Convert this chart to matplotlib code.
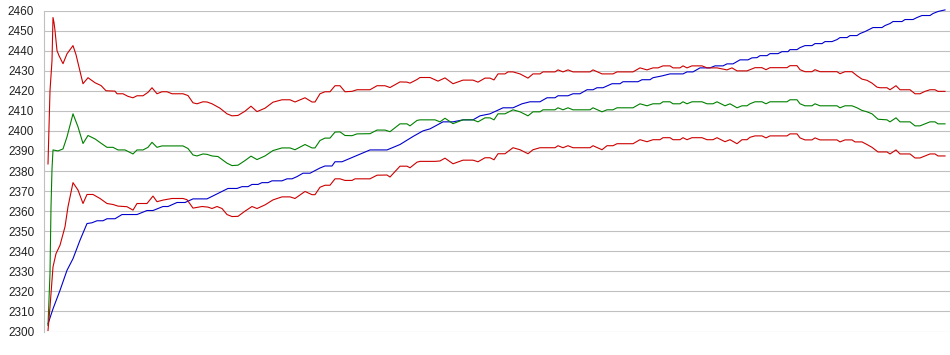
import matplotlib
matplotlib.use("Agg")
import matplotlib.pyplot as plt

# ---------------- data (time index, value) ----------------
upper_t = [4, 6, 8, 9, 10, 11, 13, 15, 19, 23, 29, 32, 35, 39, 44, 51, 57, 62, 71, 73, 79, 84, 89, 93, 99,
           104, 108, 113, 118, 123, 128, 139, 144, 149, 153, 159, 163, 168, 176, 183, 188, 194, 201, 207,
           213, 221, 229, 238, 246, 251, 261, 268, 271, 276, 281, 286, 291, 296, 301, 308, 313, 326, 333,
           341, 346, 356, 363, 366, 373, 376, 386, 394, 401, 409, 419, 429, 434, 441, 446, 450, 454, 461,
           464, 469, 476, 484, 489, 496, 499, 511, 514, 519, 524, 529, 546, 549, 558, 569, 573, 589, 596,
           603, 609, 614, 619, 626, 629, 636, 639, 643, 648, 658, 663, 673, 683, 688, 693, 703, 706, 711,
           718, 722, 726, 743, 746, 753, 756, 761, 768, 771, 776, 793, 796, 801, 808, 813, 818, 823, 828,
           833, 836, 843, 846, 852, 856, 866, 871, 876, 881, 886, 891, 894, 901]
upper_v = [2383.5, 2420, 2435, 2456.5, 2454, 2450, 2440, 2437.5, 2433.5, 2438.4, 2442.5, 2438, 2431.7, 2423.5,
           2426.5, 2424, 2422.6, 2420, 2419.8, 2418.5, 2418.5, 2417.2, 2416.5, 2417.5, 2417.5, 2419.2, 2421.5,
           2418.5, 2419.5, 2419.5, 2418.5, 2418.5, 2417.6, 2414, 2413.5, 2414.5, 2414.4, 2413.5, 2411.3,
           2408.5, 2407.5, 2407.7, 2409.8, 2412.3, 2409.6, 2411.3, 2414.3, 2415.5, 2415.5, 2414.4, 2416.5,
           2414.4, 2414.4, 2418.5, 2419.5, 2419.5, 2422.5, 2422.5, 2419.5, 2419.7, 2420.5, 2420.5, 2422.5,
           2422.5, 2421.6, 2424.4, 2424.3, 2423.8, 2425.6, 2426.6, 2426.6, 2424.8, 2426.4, 2423.5, 2425.3,
           2425.3, 2424.3, 2426.3, 2426.3, 2425.4, 2428.4, 2428.4, 2429.4, 2429.4, 2428.4, 2426.3, 2428.4,
           2428.4, 2429.4, 2429.4, 2430.4, 2429.4, 2430.4, 2429.4, 2429.4, 2430.4, 2428.4, 2428.4, 2429.4,
           2429.4, 2431.4, 2430.4, 2431.4, 2431.4, 2432.4, 2432.4, 2431.4, 2431.4, 2432.4, 2431.4, 2432.4,
           2432.4, 2431.4, 2431.4, 2430.4, 2431.4, 2429.9, 2429.9, 2430.5, 2431.5, 2431.5, 2430.5, 2431.5,
           2431.5, 2432.5, 2432.5, 2430.5, 2429.5, 2429.5, 2430.5, 2429.5, 2429.5, 2428.5, 2429.5, 2429.5,
           2427.5, 2425.8, 2425.2, 2423.8, 2421.8, 2421.5, 2421.5, 2420.5, 2422.5, 2420.5, 2420.5, 2418.5,
           2418.5, 2419.7, 2420.5, 2420.5, 2419.7, 2419.7]

mid_t = [4, 6, 7, 8, 9, 14, 19, 23, 29, 34, 39, 44, 51, 58, 63, 69, 74, 81, 89, 93, 99, 104, 108, 113, 118,
         139, 144, 149, 153, 159, 163, 168, 174, 183, 188, 194, 201, 207, 213, 221, 229, 238, 246, 251, 261,
         268, 271, 276, 281, 286, 291, 296, 301, 308, 313, 326, 333, 341, 346, 356, 363, 366, 373, 376, 391,
         396, 401, 409, 419, 429, 434, 441, 446, 450, 454, 461, 469, 476, 484, 489, 496, 499, 511, 514, 519,
         524, 529, 546, 549, 558, 563, 569, 573, 589, 596, 603, 609, 616, 619, 626, 629, 636, 639, 643, 648,
         658, 663, 669, 673, 681, 686, 693, 698, 703, 706, 711, 718, 722, 726, 743, 746, 753, 756, 761, 768,
         771, 776, 793, 796, 801, 808, 813, 818, 823, 828, 834, 843, 846, 852, 856, 866, 871, 876, 881, 886,
         891, 894, 901]
mid_v = [2303, 2329, 2362, 2381, 2390.5, 2390, 2391, 2397, 2408.5, 2402, 2393.7, 2397.7, 2396, 2393.5, 2391.8,
         2391.8, 2390.5, 2390.5, 2388.5, 2390.5, 2390.5, 2391.8, 2394.3, 2391.8, 2392.5, 2392.5, 2391.2, 2388,
         2387.5, 2388.5, 2388.3, 2387.5, 2387.2, 2383.9, 2382.7, 2382.9, 2385.2, 2387.4, 2385.7, 2387.5,
         2390.2, 2391.5, 2391.5, 2390.6, 2393.2, 2391.5, 2391.5, 2395.2, 2396.4, 2396.4, 2399.4, 2399.5,
         2397.7, 2397.6, 2398.5, 2398.6, 2400.4, 2400.4, 2399.6, 2403.5, 2403.5, 2402.5, 2405.2, 2405.5,
         2405.5, 2404.5, 2406.3, 2403.6, 2405.5, 2405.5, 2404.5, 2406.5, 2406.5, 2405.5, 2408.5, 2408.5,
         2410.5, 2409.5, 2407.5, 2409.5, 2409.5, 2410.5, 2410.5, 2411.5, 2410.5, 2411.5, 2410.5, 2410.5,
         2411.5, 2409.5, 2410.5, 2410.5, 2411.5, 2411.5, 2413.5, 2412.5, 2413.5, 2413.5, 2414.5, 2414.5,
         2413.5, 2413.5, 2414.5, 2413.5, 2414.5, 2414.5, 2413.5, 2413.5, 2414.5, 2412.5, 2413.5, 2411.5,
         2412.5, 2412.5, 2413.5, 2414.5, 2414.5, 2413.5, 2414.5, 2414.5, 2415.5, 2415.5, 2413.5, 2412.5,
         2412.5, 2413.5, 2412.5, 2412.5, 2411.5, 2412.5, 2412.5, 2411.5, 2410.2, 2409.5, 2408.5, 2405.8,
         2405.5, 2404.5, 2406.5, 2404.5, 2404.5, 2402.5, 2402.5, 2403.5, 2404.5, 2404.5, 2403.5, 2403.5]

lower_t = [4, 6, 8, 9, 12, 16, 21, 24, 29, 34, 39, 43, 49, 56, 63, 69, 74, 83, 89, 93, 103, 109, 113, 119,
           128, 139, 143, 149, 158, 164, 168, 173, 178, 183, 188, 194, 201, 208, 213, 221, 229, 238, 246, 251,
           261, 268, 271, 276, 281, 286, 291, 296, 301, 308, 311, 326, 333, 343, 346, 356, 363, 366, 373, 376,
           391, 396, 401, 409, 419, 429, 434, 441, 446, 450, 454, 461, 469, 476, 484, 489, 496, 511, 514, 519,
           524, 529, 546, 549, 558, 563, 569, 573, 589, 596, 603, 609, 616, 619, 626, 629, 636, 639, 643, 648,
           658, 663, 669, 673, 681, 686, 693, 698, 703, 706, 711, 718, 722, 726, 743, 746, 753, 756, 761, 768,
           771, 776, 793, 796, 801, 808, 811, 818, 823, 828, 834, 843, 846, 852, 856, 866, 871, 876, 881, 886,
           891, 894, 901]
lower_v = [2300.5, 2312.2, 2325.5, 2332.2, 2338.8, 2343, 2352.2, 2362.2, 2374.2, 2370.5, 2363.8, 2368.3,
           2368.3, 2366.3, 2363.8, 2363.3, 2362.5, 2362.2, 2360.5, 2363.8, 2363.8, 2367.5, 2364.7, 2365.5,
           2366.3, 2366.3, 2365.7, 2361.5, 2362.3, 2362, 2361.3, 2362.3, 2361.3, 2358.3, 2357.3, 2357.4, 2360,
           2362.3, 2361.3, 2363.1, 2365.6, 2367.1, 2367.1, 2366.3, 2369.8, 2368.2, 2368.2, 2371.9, 2372.9,
           2372.9, 2376.1, 2376.1, 2375.3, 2375.3, 2376.1, 2376.1, 2377.9, 2378, 2377, 2382.4, 2382.4, 2381.6,
           2384.4, 2384.8, 2384.8, 2385, 2386.4, 2383.6, 2385.4, 2385.4, 2384.6, 2386.6, 2386.6, 2385.6,
           2388.6, 2388.6, 2391.6, 2390.6, 2388.6, 2390.6, 2391.6, 2391.6, 2392.6, 2391.6, 2392.6, 2391.6,
           2391.6, 2392.6, 2390.6, 2392.6, 2392.6, 2393.6, 2393.6, 2395.6, 2394.6, 2395.6, 2395.6, 2396.6,
           2396.6, 2395.6, 2395.6, 2396.6, 2395.6, 2396.6, 2396.6, 2395.6, 2395.6, 2396.6, 2394.6, 2395.6,
           2393.6, 2395.6, 2395.6, 2396.8, 2397.5, 2397.5, 2396.5, 2397.5, 2397.5, 2398.5, 2398.5, 2396.5,
           2395.5, 2395.5, 2396.5, 2395.5, 2395.5, 2394.5, 2395.5, 2395.5, 2394.5, 2394.5, 2393.2, 2391.8,
           2389.5, 2389.5, 2388.5, 2390.5, 2388.5, 2388.5, 2386.5, 2386.5, 2387.5, 2388.5, 2388.5, 2387.5,
           2387.5]

blue_t = [4, 9, 16, 23, 29, 36, 43, 48, 53, 59, 63, 71, 78, 93, 103, 109, 119, 124, 133, 141, 149, 163, 184,
          193, 198, 204, 208, 214, 218, 224, 228, 238, 243, 248, 253, 259, 266, 276, 281, 288, 291, 298, 326,
          343, 356, 369, 379, 386, 399, 409, 419, 429, 436, 446, 459, 469, 478, 486, 496, 503, 511, 514, 524,
          529, 536, 543, 549, 553, 559, 568, 576, 579, 594, 598, 606, 609, 618, 626, 639, 643, 649, 656, 666,
          671, 679, 683, 689, 696, 704, 708, 713, 716, 723, 726, 734, 738, 744, 746, 753, 756, 761, 768, 771,
          778, 781, 788, 793, 796, 803, 806, 813, 816, 821, 829, 838, 841, 846, 849, 858, 861, 869, 873, 878,
          886, 889, 894, 901]
blue_v = [2303.8, 2311.3, 2320.5, 2330.5, 2336.3, 2345.5, 2353.8, 2354.2, 2355.2, 2355.2, 2356.2, 2356.2,
          2358.3, 2358.3, 2360.3, 2360.3, 2362.3, 2362.3, 2364.3, 2364.3, 2366.1, 2366.1, 2371.3, 2371.3,
          2372.2, 2372.2, 2373.3, 2373.3, 2374.2, 2374.2, 2375.1, 2375.1, 2376.1, 2376.1, 2377.2, 2378.9,
          2378.9, 2381.5, 2382.5, 2382.5, 2384.6, 2384.6, 2390.5, 2390.5, 2393.2, 2397.2, 2400, 2401, 2404.5,
          2404.5, 2405.5, 2405.5, 2407.5, 2408.5, 2411.5, 2411.5, 2413.5, 2414.5, 2414.5, 2416.5, 2416.5,
          2417.5, 2417.5, 2418.5, 2418.5, 2420.5, 2420.5, 2421.5, 2421.5, 2423.5, 2423.5, 2424.5, 2424.5,
          2425.5, 2425.5, 2426.5, 2427.4, 2428.4, 2428.4, 2429.4, 2429.4, 2431.4, 2431.4, 2432.4, 2432.4,
          2433.4, 2433.4, 2435.4, 2435.4, 2436.4, 2436.5, 2437.5, 2437.5, 2438.5, 2438.5, 2439.5, 2439.5,
          2440.5, 2440.5, 2441.5, 2442.5, 2442.5, 2443.5, 2443.5, 2444.5, 2444.5, 2445.5, 2446.5, 2446.5,
          2447.5, 2447.5, 2448.5, 2449.5, 2451.5, 2451.5, 2452.5, 2453.5, 2454.5, 2454.5, 2455.5, 2455.5,
          2456.5, 2457.5, 2457.5, 2458.5, 2459.5, 2460.3]

y_ticks = list(range(2300, 2461, 10))

# ---------------- figure ----------------
W, H = 950, 355
fig = plt.figure(figsize=(W / 100, H / 100), dpi=100)
ax = fig.add_axes([44 / W, 1 - 331.5 / H, (W - 44) / W, (331.5 - 10.5) / H])

grid_c = "#c0c0c0"
ax.set_xlim(0, 906)
ax.set_ylim(2300, 2460)
ax.set_yticks(y_ticks)
ax.set_xticks([])
ax.grid(axis="y", color=grid_c, linewidth=0.8)
ax.set_axisbelow(True)
for s in ["top", "right", "bottom"]:
    ax.spines[s].set_visible(False)
ax.spines["left"].set_color(grid_c)
ax.spines["left"].set_linewidth(0.8)
ax.tick_params(axis="y", length=0, pad=7, labelsize=8.5, labelcolor="#222222")
for lab in ax.get_yticklabels():
    lab.set_fontfamily("Liberation Sans")

lw = 0.8
ax.plot(blue_t, blue_v, color="#0000cc", lw=lw, clip_on=False)
ax.plot(upper_t, upper_v, color="#cc0000", lw=lw)
ax.plot(mid_t, mid_v, color="#008000", lw=lw)
ax.plot(lower_t, lower_v, color="#cc0000", lw=lw)

fig.savefig("out.png", dpi=100)
